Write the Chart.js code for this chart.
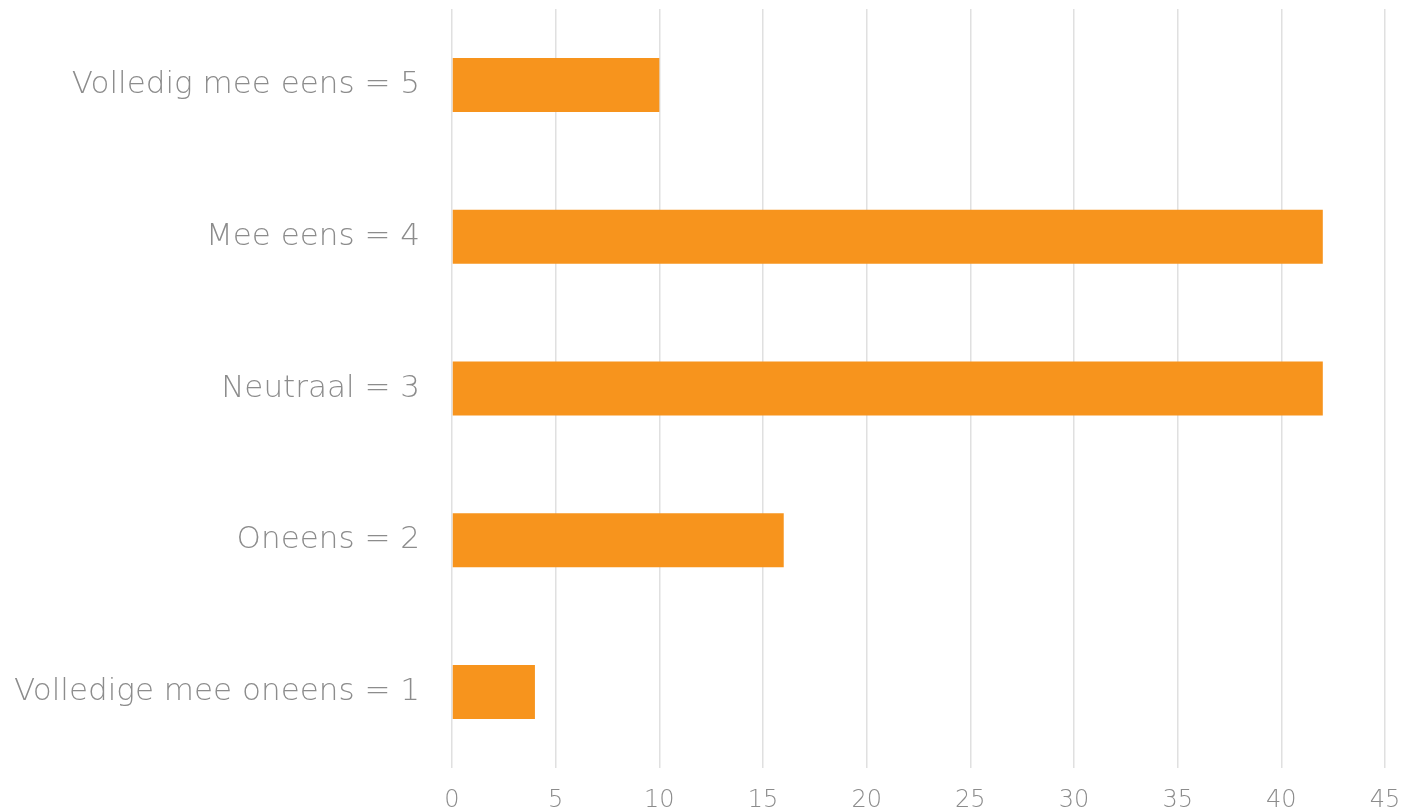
<!DOCTYPE html>
<html>
<head>
<meta charset="utf-8">
<script src="https://cdn.jsdelivr.net/npm/chart.js@4"></script>
<style>
  html, body { margin: 0; padding: 0; background: #ffffff; overflow: hidden; }
  #wrap { width: 1401px; height: 812px; }
</style>
</head>
<body>
<div id="wrap"><canvas id="grafico"></canvas></div>
<script>
// categorias (de arriba hacia abajo)
const categorias = [
    "Volledig mee eens = 5",
    "Mee eens = 4",
    "Neutraal = 3",
    "Oneens = 2",
    "Volledige mee oneens = 1"
];

// valores
const valores = [10, 42, 42, 16, 4];

// ticks del eje x
const ticksX = [0, 5, 10, 15, 20, 25, 30, 35, 40, 45];

const colorTexto = "#8c8c8c";
const fuente = "'DejaVu Sans', sans-serif";

const config = {
    type: "bar",
    data: {
        labels: categorias,
        datasets: [{
            data: valores,
            backgroundColor: "#F7941D",
            borderWidth: 0,
            barPercentage: 1,
            categoryPercentage: 0.356
        }]
    },
    options: {
        indexAxis: "y",
        responsive: true,
        maintainAspectRatio: false,
        animation: false,
        layout: { padding: { top: 9, right: 16, left: 0, bottom: 0 } },
        plugins: {
            legend: { display: false },
            tooltip: { enabled: false }
        },
        scales: {
            x: {
                min: 0,
                max: 45,
                afterBuildTicks: (eje) => {
                    eje.ticks = ticksX.map((v) => ({ value: v }));
                },
                afterFit: (eje) => {
                    eje.height = 44;
                    eje.paddingLeft = 0;
                    eje.paddingRight = 0;
                },
                grid: { color: "#e0e0e0", lineWidth: 1.5, drawTicks: false },
                border: { display: false },
                ticks: {
                    color: colorTexto,
                    padding: 18,
                    font: { family: fuente, size: 24, weight: 200 }
                }
            },
            y: {
                afterFit: (eje) => {
                    eje.width = 452;
                    eje.paddingTop = 0;
                    eje.paddingBottom = 0;
                },
                grid: { display: false, drawTicks: false },
                border: { display: false },
                ticks: {
                    color: colorTexto,
                    padding: 32,
                    font: { family: fuente, size: 31, weight: 200 }
                }
            }
        }
    }
};

new Chart(document.getElementById("grafico"), config);
</script>
</body>
</html>
